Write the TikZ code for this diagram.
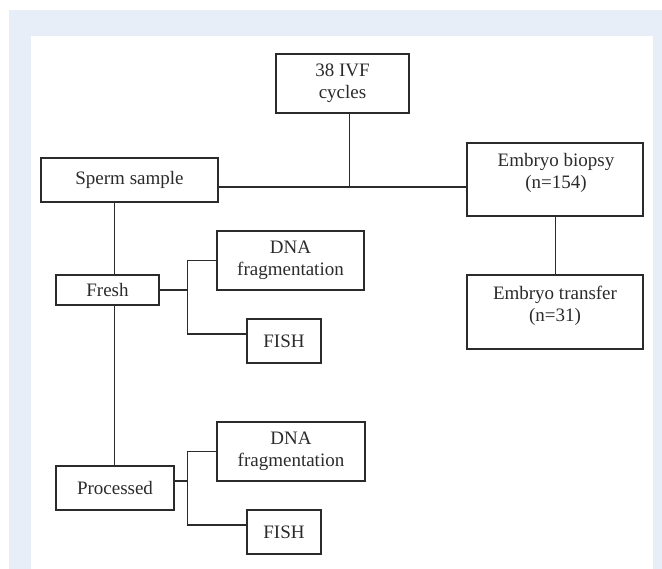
\documentclass[tikz,border=0pt]{standalone}
\usepackage{fontspec}
\setmainfont{Liberation Serif}
\begin{document}
\begin{tikzpicture}[x=1pt,y=-1pt,
  ink/.style={draw=inkc,line width=1.3pt},
  box/.style={ink,rectangle,inner sep=0pt,align=center,text=inkc,
    font=\fontsize{19}{21.7}\selectfont},
  txt/.style={inner sep=0pt,align=center,text=inkc,
    font=\fontsize{19}{21.7}\selectfont},
  conn/.style={ink,line cap=rect}]
\definecolor{inkc}{HTML}{2B2B2B}
\definecolor{bgblue}{HTML}{E7EEF8}
\useasboundingbox (0,0) rectangle (662,569);
\fill[bgblue] (9,10) rectangle (662,569);
\fill[white] (31,36) rectangle (653,569);

% boxes
\node[box,minimum width=133pt,minimum height=59pt] (ivf) at (342.5,83.5) {38 IVF\\cycles};
\node[box,minimum width=177pt,minimum height=44pt] (sperm) at (129.5,180) {Sperm sample};
\node[box,minimum width=176pt,minimum height=73pt] (bio) at (555,179.5) {};
\node[txt] (biot) at (556,173) {Embryo biopsy\\(n=154)};
\node[box,minimum width=176pt,minimum height=74pt] (tra) at (555,312) {};
\node[txt] (trat) at (555,306) {Embryo transfer\\(n=31)};
\node[box,minimum width=103pt,minimum height=30pt] (fresh) at (107.5,290) {Fresh};
\node[box,minimum width=147pt,minimum height=59pt] (dna1) at (290.5,260.5) {DNA\\fragmentation};
\node[box,minimum width=74pt,minimum height=44pt] (fish1) at (284,341) {FISH};
\node[box,minimum width=118pt,minimum height=44pt] (proc) at (115,488) {Processed};
\node[box,minimum width=148pt,minimum height=59pt] (dna2) at (291,451.5) {DNA\\fragmentation};
\node[box,minimum width=74pt,minimum height=44pt] (fish2) at (284,532) {FISH};

% junction coordinates
\coordinate (j1) at (349.3,187);
\coordinate (sx) at (114.3,0);
\coordinate (fj) at (187.7,290);
\coordinate (pj) at (187.7,481);
\coordinate (tx) at (555.7,0);

% connectors
\draw[conn] (ivf.south -| j1) -- (j1);
\draw[conn] (sperm.east |- j1) -- (bio.west |- j1);
\draw[conn] (sperm.south -| sx) -- (fresh.north -| sx);
\draw[conn] (fresh.south -| sx) -- (proc.north -| sx);
\draw[conn] (bio.south -| tx) -- (tra.north -| tx);
\draw[conn] (fresh.east) -- (fj);
\draw[conn] (dna1.west) -| (fj);
\draw[conn] (fish1.west |- 0,334) -| (fj);
\draw[conn] (proc.east |- pj) -- (pj);
\draw[conn] (dna2.west) -| (pj);
\draw[conn] (fish2.west |- 0,525) -| (pj);
\end{tikzpicture}
\end{document}
